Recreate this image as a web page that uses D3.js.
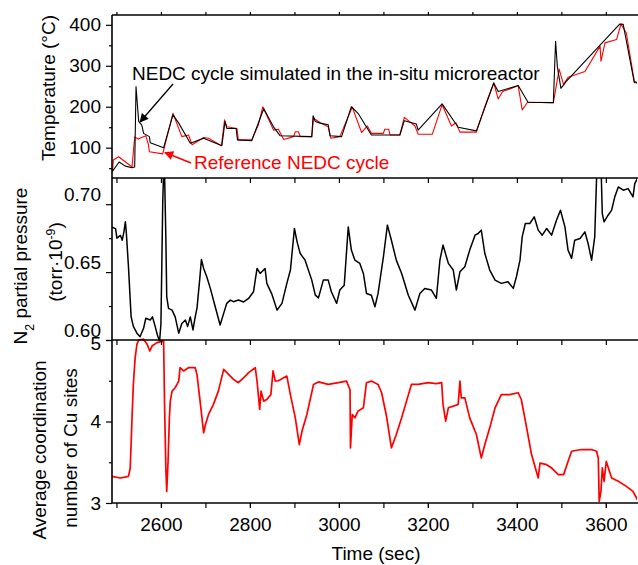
<!DOCTYPE html>
<html>
<head>
<meta charset="utf-8">
<script src="https://cdn.jsdelivr.net/npm/d3@7.9.0/dist/d3.min.js"></script>
<style>
  body { margin: 0; background: #fff; }
  svg { font-family: "Liberation Sans", Arial, sans-serif; }
  .axis path { display: none; }
  .axis line { stroke: #000; stroke-width: 1.2; }
  .axis text { font-size: 19px; fill: #000; }
</style>
</head>
<body>
<svg id="chart" width="638" height="565"></svg>
<script>
// time axis
const timeTicks = [2500, 2600, 2700, 2800, 2900, 3000, 3100, 3200, 3300, 3400, 3500, 3600];
const timeLabels = [2600, 2800, 3000, 3200, 3400, 3600];

// temperature: simulated in the microreactor (black)
const simTime = [2490, 2506, 2520, 2535, 2541, 2544, 2550, 2557, 2561, 2574, 2576, 2606, 2627, 2640, 2666, 2696, 2737, 2744, 2748, 2769, 2772, 2804, 2831, 2853, 2868, 2939, 2942, 2947, 2958, 2976, 2980, 3006, 3028, 3043, 3073, 3137, 3147, 3174, 3178, 3232, 3268, 3309, 3348, 3358, 3403, 3425, 3482, 3487, 3491, 3499, 3511, 3631, 3639, 3664, 3673];
const simTemp = [41, 65, 55, 51, 53, 249, 164, 155, 135, 127, 112, 100, 180, 160, 111, 123, 105, 164, 147, 147, 119, 117, 195, 151, 129, 127, 178, 164, 160, 156, 129, 127, 200, 184, 131, 131, 166, 158, 143, 207, 150, 141, 258, 237, 252, 211, 210, 360, 298, 245, 262, 402, 401, 259, 258];

// temperature: reference NEDC cycle (red)
const refTime = [2491, 2493, 2505, 2535, 2541, 2549, 2566, 2572, 2574, 2604, 2627, 2647, 2662, 2670, 2696, 2707, 2736, 2743, 2748, 2771, 2774, 2804, 2819, 2829, 2853, 2864, 2876, 2898, 2902, 2909, 2913, 2939, 2943, 2958, 2976, 2982, 3002, 3030, 3051, 3064, 3073, 3100, 3103, 3112, 3115, 3137, 3147, 3171, 3178, 3210, 3232, 3253, 3263, 3272, 3309, 3328, 3348, 3358, 3368, 3403, 3412, 3424, 3482, 3495, 3505, 3515, 3553, 3587, 3589, 3598, 3624, 3634, 3646, 3664, 3673];
const refTemp = [41, 70, 78, 53, 126, 121, 129, 107, 90, 85, 184, 127, 131, 107, 125, 123, 105, 168, 151, 147, 119, 119, 156, 200, 143, 145, 120, 127, 139, 139, 127, 127, 172, 161, 151, 123, 127, 199, 137, 153, 135, 135, 145, 145, 131, 131, 174, 153, 133, 133, 205, 153, 161, 138, 138, 200, 258, 219, 237, 251, 192, 211, 210, 292, 254, 272, 286, 348, 311, 356, 364, 402, 380, 262, 258];

// N2 partial pressure (torr·10^-9)
const n2Time = [2490, 2498, 2501, 2509, 2513, 2517, 2520, 2522, 2527, 2533, 2538, 2546, 2553, 2561, 2566, 2576, 2581, 2587, 2592, 2597, 2600, 2604, 2606, 2608, 2611, 2613, 2617, 2625, 2632, 2640, 2647, 2655, 2660, 2666, 2672, 2677, 2681, 2687, 2691, 2696, 2703, 2711, 2722, 2733, 2741, 2748, 2756, 2763, 2774, 2786, 2797, 2808, 2816, 2823, 2834, 2838, 2849, 2861, 2872, 2883, 2891, 2900, 2906, 2913, 2924, 2939, 2947, 2954, 2965, 2976, 2983, 2995, 3002, 3012, 3021, 3028, 3036, 3047, 3055, 3062, 3073, 3081, 3088, 3100, 3109, 3118, 3129, 3141, 3156, 3171, 3182, 3193, 3208, 3219, 3227, 3234, 3246, 3257, 3264, 3272, 3283, 3294, 3306, 3313, 3320, 3328, 3339, 3351, 3365, 3380, 3392, 3399, 3407, 3412, 3419, 3429, 3439, 3448, 3457, 3467, 3478, 3489, 3498, 3508, 3515, 3523, 3530, 3542, 3553, 3560, 3568, 3575, 3579, 3583, 3589, 3592, 3596, 3605, 3613, 3620, 3628, 3639, 3650, 3661, 3665, 3671];
const n2Value = [0.683, 0.682, 0.675, 0.677, 0.6735, 0.680, 0.687, 0.680, 0.654, 0.617, 0.610, 0.605, 0.6024, 0.6086, 0.616, 0.6147, 0.617, 0.610, 0.6037, 0.599, 0.612, 0.7005, 0.725, 0.725, 0.676, 0.632, 0.6233, 0.622, 0.617, 0.605, 0.6122, 0.6147, 0.610, 0.617, 0.6074, 0.617, 0.6233, 0.6441, 0.6593, 0.6527, 0.6466, 0.638, 0.6245, 0.611, 0.6196, 0.627, 0.6294, 0.6282, 0.6294, 0.628, 0.6306, 0.6355, 0.6527, 0.649, 0.6527, 0.6417, 0.634, 0.622, 0.627, 0.6417, 0.6515, 0.6821, 0.6723, 0.6637, 0.6588, 0.6441, 0.633, 0.631, 0.6441, 0.6441, 0.6355, 0.627, 0.6368, 0.6404, 0.6833, 0.6662, 0.6588, 0.6564, 0.649, 0.6343, 0.633, 0.6245, 0.6343, 0.6612, 0.6846, 0.6735, 0.6588, 0.649, 0.633, 0.622, 0.6343, 0.638, 0.6368, 0.6306, 0.6588, 0.6699, 0.6564, 0.6515, 0.6368, 0.6502, 0.654, 0.6662, 0.6772, 0.6784, 0.6809, 0.6637, 0.6515, 0.6441, 0.6417, 0.6429, 0.638, 0.6466, 0.6588, 0.676, 0.6858, 0.6858, 0.6907, 0.6809, 0.6772, 0.6821, 0.6772, 0.6882, 0.6956, 0.6833, 0.6662, 0.6601, 0.6735, 0.6748, 0.6796, 0.6711, 0.6588, 0.676, 0.718, 0.73, 0.73, 0.6931, 0.687, 0.6919, 0.6956, 0.7054, 0.7127, 0.7103, 0.7115, 0.7054, 0.7152, 0.719];

// average coordination number of Cu sites
const cuTime = [2490, 2509, 2527, 2531, 2535, 2538, 2542, 2546, 2550, 2561, 2569, 2575, 2580, 2591, 2606, 2608, 2611, 2613, 2616, 2619, 2621, 2625, 2632, 2640, 2643, 2651, 2662, 2677, 2681, 2688, 2696, 2700, 2707, 2718, 2729, 2741, 2752, 2763, 2774, 2786, 2797, 2812, 2816, 2822, 2825, 2831, 2838, 2847, 2852, 2857, 2864, 2883, 2891, 2902, 2911, 2917, 2928, 2943, 2954, 2976, 2999, 3017, 3025, 3026, 3030, 3036, 3043, 3055, 3062, 3073, 3088, 3096, 3107, 3118, 3129, 3141, 3152, 3163, 3178, 3201, 3219, 3231, 3234, 3240, 3246, 3257, 3268, 3272, 3275, 3283, 3294, 3309, 3320, 3328, 3339, 3351, 3365, 3384, 3403, 3410, 3422, 3433, 3448, 3452, 3467, 3478, 3493, 3505, 3515, 3523, 3545, 3568, 3579, 3583, 3585, 3589, 3592, 3596, 3601, 3613, 3628, 3646, 3661, 3671];
const cuValue = [3.327, 3.307, 3.327, 3.43, 4.045, 4.455, 4.78, 4.947, 5.0, 5.01, 4.947, 4.865, 4.926, 4.968, 4.99, 4.25, 3.43, 3.143, 3.51, 4.045, 4.25, 4.373, 4.414, 4.496, 4.66, 4.62, 4.66, 4.66, 4.578, 4.25, 3.86, 3.963, 4.086, 4.21, 4.373, 4.64, 4.578, 4.517, 4.476, 4.537, 4.6, 4.66, 4.496, 4.148, 4.373, 4.25, 4.27, 4.33, 4.62, 4.496, 4.5, 4.557, 4.33, 4.045, 3.717, 3.88, 4.086, 4.455, 4.486, 4.455, 4.476, 4.496, 4.39, 3.676, 4.086, 4.045, 4.127, 4.168, 4.476, 4.496, 4.455, 4.353, 4.065, 3.676, 3.84, 4.045, 4.25, 4.455, 4.455, 4.476, 4.464, 4.476, 4.21, 4.004, 4.168, 4.188, 4.21, 4.496, 4.29, 4.29, 4.045, 3.84, 3.553, 3.717, 3.922, 4.168, 4.33, 4.33, 4.353, 4.27, 3.922, 3.594, 3.307, 3.49, 3.47, 3.43, 3.348, 3.348, 3.51, 3.635, 3.656, 3.656, 3.635, 3.553, 3.02, 3.143, 3.43, 3.266, 3.51, 3.307, 3.266, 3.204, 3.143, 3.04];

// y ticks
const tempTicks = [100, 200, 300, 400];
const tempMinor = [50, 150, 250, 350];
const n2Ticks = [0.60, 0.65, 0.70];
const n2Minor = [0.625, 0.675];
const cuTicks = [3, 4, 5];
const cuMinor = [3.5, 4.5];

const svg = d3.select("#chart");
const left = 112, right = 637;

const x = d3.scaleLinear().domain([2490, 3670]).range([left, right]);
const yTemp = d3.scaleLinear().domain([26, 424]).range([178, 15]);
const yN2 = d3.scaleLinear().domain([0.60, 0.7193]).range([340, 178]);
const yCu = d3.scaleLinear().domain([3, 5]).range([503, 340]);

const defs = svg.append("defs");
function clip(id, y0, y1) {
  defs.append("clipPath").attr("id", id)
    .append("rect").attr("x", left).attr("y", y0).attr("width", right - left).attr("height", y1 - y0);
}
clip("cTemp", 15, 178);
clip("cN2", 178, 346);
clip("cCu", 333, 503);

function arrowHead(id, color) {
  defs.append("marker").attr("id", id)
    .attr("viewBox", "0 0 10 10").attr("refX", 9).attr("refY", 5)
    .attr("markerWidth", 11).attr("markerHeight", 9)
    .attr("markerUnits", "userSpaceOnUse").attr("orient", "auto")
    .append("path").attr("d", "M0,0 L10,5 L0,10 Z").attr("fill", color);
}
arrowHead("aBlack", "#000");
arrowHead("aRed", "#ff0000");

function drawLine(times, values, y, color, width, clipId) {
  const pts = times.map((t, i) => [t, values[i]]);
  svg.append("path")
    .datum(pts)
    .attr("clip-path", `url(#${clipId})`)
    .attr("fill", "none")
    .attr("stroke", color)
    .attr("stroke-width", width)
    .attr("stroke-linejoin", "round")
    .attr("d", d3.line().x(d => x(d[0])).y(d => y(d[1])));
}

drawLine(refTime, refTemp, yTemp, "#ff0000", 1.1, "cTemp");
drawLine(simTime, simTemp, yTemp, "#000", 1.1, "cTemp");
drawLine(n2Time, n2Value, yN2, "#000", 1.5, "cN2");
drawLine(cuTime, cuValue, yCu, "#ff0000", 1.7, "cCu");

// left axes
function leftAxis(y, major, minor, fmt, labelShift) {
  const g = svg.append("g").attr("class", "axis").attr("transform", `translate(${left},0)`);
  g.call(d3.axisLeft(y).tickValues(major).tickSize(6).tickPadding(5).tickFormat(fmt));
  g.selectAll("text").attr("transform", d => `translate(0,${labelShift(d)})`);
  svg.append("g").attr("class", "axis").attr("transform", `translate(${left},0)`)
    .call(d3.axisLeft(y).tickValues(minor).tickSize(3).tickFormat(""));
}
leftAxis(yTemp, tempTicks, tempMinor, d3.format("d"), () => 0);
leftAxis(yN2, n2Ticks, n2Minor, d3.format(".2f"), () => -10);
leftAxis(yCu, cuTicks, cuMinor, d3.format("d"), d => (d === 5 ? 3 : 0));

// time ticks below each panel
[178, 340, 503].forEach(yb => {
  svg.append("g").attr("class", "axis").attr("transform", `translate(0,${yb})`)
    .call(d3.axisBottom(x).tickValues(timeTicks).tickSize(5).tickFormat(""));
});
svg.append("g").attr("class", "axis").attr("transform", "translate(0,15)")
  .call(d3.axisTop(x).tickValues(timeTicks).tickSize(3).tickFormat(""));
svg.append("g").attr("class", "axis").attr("transform", "translate(0,503)")
  .call(d3.axisBottom(x).tickValues(timeLabels).tickSize(5).tickPadding(10).tickFormat(d3.format("d")));

// frame
const frame = svg.append("g").attr("stroke", "#000").attr("stroke-width", 1.6);
frame.append("line").attr("x1", left).attr("x2", left).attr("y1", 15).attr("y2", 503);
[15, 178, 340, 503].forEach(yy => {
  frame.append("line").attr("x1", left).attr("x2", right + 1).attr("y1", yy).attr("y2", yy);
});

// axis titles
function vText(xb, yc, parts, size) {
  const t = svg.append("text")
    .attr("transform", `translate(${xb},${yc}) rotate(-90)`)
    .attr("text-anchor", "middle")
    .style("font-size", size + "px");
  parts.forEach(p => {
    const s = t.append("tspan").text(p.text);
    if (p.shift) s.attr("baseline-shift", p.shift).style("font-size", (size * 0.65) + "px");
  });
  return t;
}
vText(55, 88, [{ text: "Temperature (°C)" }], 19);
vText(27, 266, [{ text: "N" }, { text: "2", shift: "sub" }, { text: " partial pressure" }], 19);
vText(62, 262, [{ text: "(torr·10" }, { text: "-9", shift: "super" }, { text: ")" }], 19);
vText(46, 450, [{ text: "Average coordination" }], 19);
vText(77, 448, [{ text: "number of Cu sites" }], 19);

svg.append("text").attr("x", 376).attr("y", 560).attr("text-anchor", "middle")
  .style("font-size", "19px").text("Time (sec)");

// annotations
svg.append("text").attr("x", 132).attr("y", 80).style("font-size", "19px")
  .attr("fill", "#000").text("NEDC cycle simulated in the in-situ microreactor");
svg.append("line").attr("x1", 173).attr("y1", 84).attr("x2", 140).attr("y2", 122)
  .attr("stroke", "#000").attr("stroke-width", 1.3).attr("marker-end", "url(#aBlack)");

svg.append("text").attr("x", 194).attr("y", 169).style("font-size", "19px")
  .attr("fill", "#ff0000").text("Reference NEDC cycle");
svg.append("line").attr("x1", 191).attr("y1", 163).attr("x2", 165).attr("y2", 152.5)
  .attr("stroke", "#ff0000").attr("stroke-width", 1.6).attr("marker-end", "url(#aRed)");
</script>
</body>
</html>
